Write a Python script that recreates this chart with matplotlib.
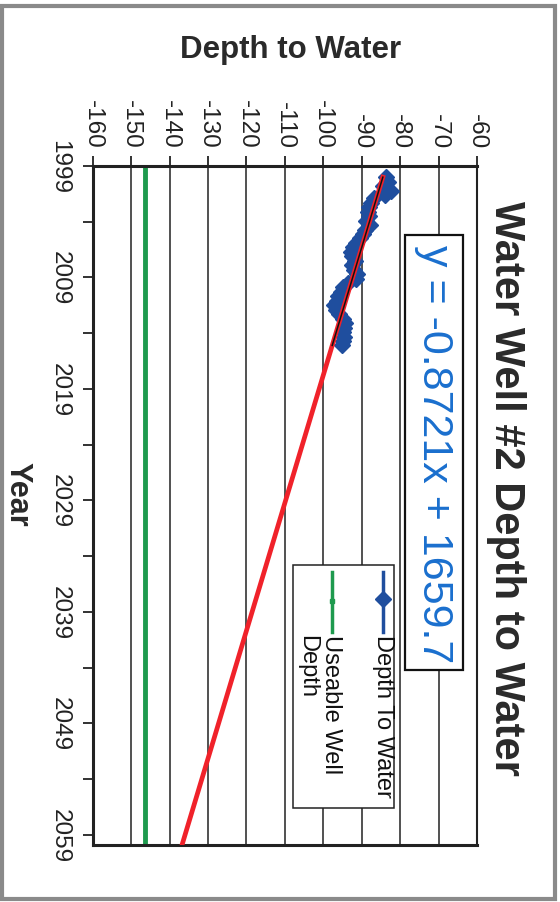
import numpy as np
import matplotlib
matplotlib.use("Agg")
import matplotlib.pyplot as plt
from matplotlib.patches import Rectangle
from matplotlib.lines import Line2D

plt.rcParams['font.family'] = ['Liberation Sans', 'DejaVu Sans']

# measured depth to water (feet, negative = below surface)
years = [2000.0, 2000.4, 2000.8, 2001.2, 2001.6, 2001.9, 2002.3, 2002.7, 2003.1, 2003.5,
         2003.9, 2004.3, 2004.7, 2005.1, 2005.5, 2005.9, 2006.3, 2006.7, 2007.1, 2007.5,
         2007.9, 2008.3, 2008.7, 2009.1, 2009.5, 2009.9, 2010.3, 2010.7, 2011.1, 2011.5,
         2011.9, 2012.3, 2012.7, 2013.1, 2013.5, 2013.9, 2014.3, 2014.7, 2015.1]
depths = [-83.6, -83.2, -84.4, -82.4, -84.0, -86.8, -87.6, -88.0, -88.4, -88.0,
          -88.8, -87.9, -89.2, -89.6, -90.5, -91.4, -92.3, -92.7, -92.4, -91.8,
          -92.4, -91.9, -91.3, -91.4, -93.6, -94.9, -95.5, -96.1, -96.5, -97.3,
          -96.8, -95.9, -94.9, -94.4, -94.6, -94.9, -94.7, -94.9, -95.2]

useable_depth = -146.5
slope = -0.8721
intercept = 1659.7

depth_ticks = [-160, -150, -140, -130, -120, -110, -100, -90, -80, -70, -60]
year_ticks = [1999, 2009, 2019, 2029, 2039, 2049, 2059]
year_minor = [2004, 2014, 2024, 2034, 2044, 2054]
year_min, year_max = 1999, 2059.9

blue = '#1f4e9e'
green = '#1e9a4e'
red = '#f0222a'
W, H = 560, 903

fig = plt.figure(figsize=(5.6, 9.03), dpi=100)
ax = fig.add_axes([92.7 / W, 1 - 845.7 / H, (477 - 92.7) / W, (845.7 - 167) / H])

# chart is drawn turned 90 degrees: depth across, years going down
ax.plot(depths, years, color=blue, lw=1.5, marker='D', ms=8, zorder=3)
ax.plot([useable_depth, useable_depth], [year_min, year_max], color=green, lw=3.5, zorder=2)

trend_years = np.array([years[0], year_max])
ax.plot(slope * trend_years + intercept, trend_years, color=red, lw=3.4, zorder=4)
fit_years = np.array([years[0], years[-1]])
ax.plot(slope * fit_years + intercept, fit_years, color='#111111', lw=1.1, zorder=5)

ax.set_xlim(-160, -60)
ax.set_ylim(year_max, year_min)
ax.xaxis.tick_top()
ax.set_xticks(depth_ticks)
ax.set_xticklabels([str(v) for v in depth_ticks], rotation=-90)
ax.set_yticks(year_ticks)
ax.set_yticks(year_minor, minor=True)
ax.set_yticklabels([str(v) for v in year_ticks], rotation=-90)
for lbl in ax.get_yticklabels():
    lbl.set_va('center')
ax.tick_params(axis='x', which='major', length=7, width=1.3, pad=6, labelsize=17.5,
               colors='#222222', direction='out')
ax.tick_params(axis='y', which='both', length=7, width=1.3, pad=9, labelsize=17.5,
               colors='#222222', direction='out')
ax.grid(axis='x', color='#222222', lw=1.1)
ax.set_axisbelow(True)
for side in ['left', 'top', 'bottom']:
    ax.spines[side].set_linewidth(2.2)
    ax.spines[side].set_color('#222222')
ax.spines['right'].set_linewidth(1.5)
ax.spines['right'].set_color('#222222')

# titles
fig.text(506 / W, 1 - 488 / H, 'Water Well #2 Depth to Water', rotation=-90, fontsize=30,
         fontweight='bold', color='#2a2a2a', ha='center', va='center')
fig.text(291 / W, 1 - 50 / H, 'Depth to Water', fontsize=22.5, fontweight='bold',
         color='#2a2a2a', ha='center', va='center')
fig.text(17 / W, 1 - 494 / H, 'Year', rotation=-90, fontsize=22, fontweight='bold',
         color='#2a2a2a', ha='center', va='center')

# trendline equation box
fig.add_artist(Rectangle((405 / W, 1 - 671 / H), 58 / W, 435 / H, transform=fig.transFigure,
                         fc='white', ec='#111111', lw=1.6, zorder=6))
fig.text(434 / W, 1 - 454 / H, 'y = -0.8721x + 1659.7', rotation=-90, fontsize=31,
         color='#1a6fce', ha='center', va='center', zorder=7)

# legend drawn by hand so it can be turned with the chart
fig.add_artist(Rectangle((293 / W, 1 - 809 / H), 101 / W, 243 / H, transform=fig.transFigure,
                         fc='white', ec='#222222', lw=1.1, zorder=6))
fig.add_artist(Line2D([383 / W, 383 / W], [1 - 573 / H, 1 - 633 / H], color=blue, lw=2.5,
                      transform=fig.transFigure, zorder=7))
fig.add_artist(Line2D([383 / W], [1 - 600 / H], color=blue, marker='D', ms=8,
                      transform=fig.transFigure, zorder=8))
fig.add_artist(Line2D([332 / W, 332 / W], [1 - 573 / H, 1 - 633 / H], color=green, lw=2.5,
                      transform=fig.transFigure, zorder=7))
fig.add_artist(Line2D([332 / W], [1 - 602 / H], color=green, marker='s', ms=3,
                      transform=fig.transFigure, zorder=8))
fig.text(383 / W, 1 - 635 / H, 'Depth To Water', rotation=-90, fontsize=17, color='#111111',
         ha='center', va='top', zorder=8)
fig.text(319 / W, 1 - 635 / H, 'Useable Well\nDepth', rotation=-90, fontsize=17,
         color='#111111', ha='center', va='top', multialignment='left', linespacing=1.1,
         zorder=8)

# grey page frame
fig.add_artist(Rectangle((2 / W, 1 - 900 / H), 553 / W, 893 / H, transform=fig.transFigure,
                         fill=False, ec='#8a8a8a', lw=3))

plt.savefig('out.png', dpi=100)
